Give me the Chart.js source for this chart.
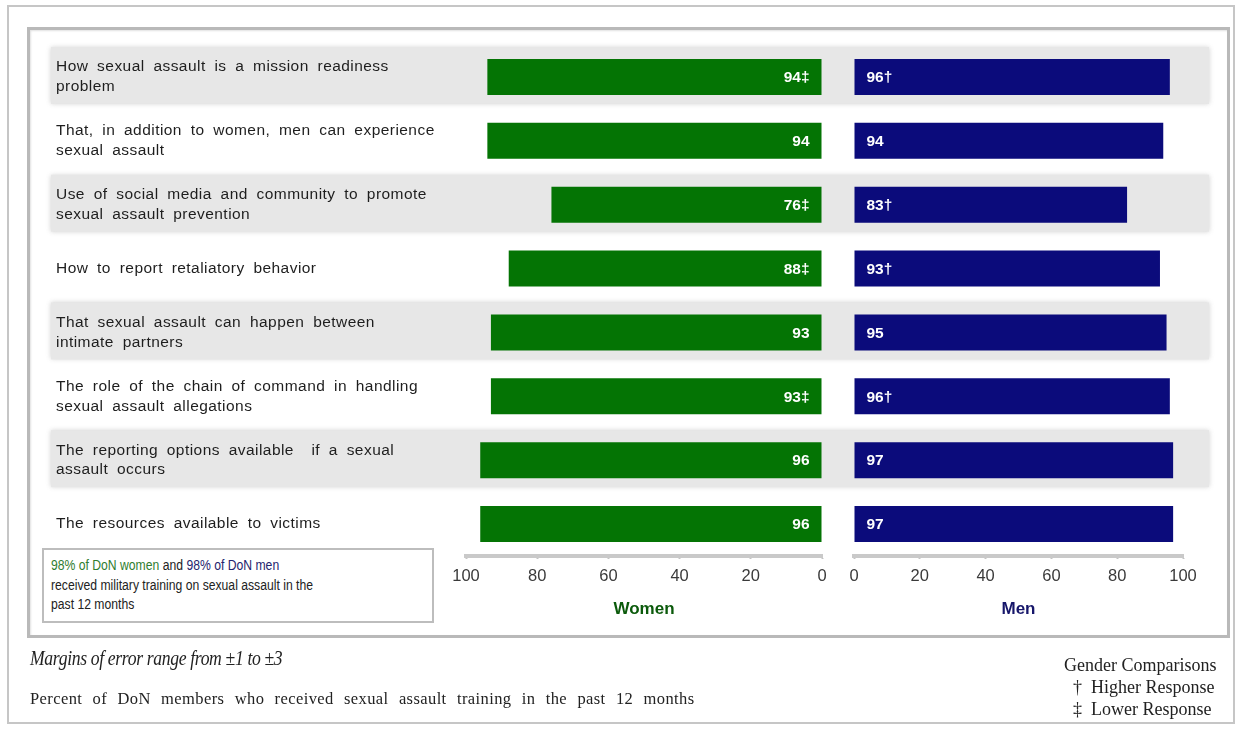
<!DOCTYPE html>
<html>
<head>
<meta charset="utf-8">
<script src="https://cdn.jsdelivr.net/npm/chart.js@4.4.1/dist/chart.umd.min.js"></script>
<style>
  html, body { margin: 0; padding: 0; background: #fff; }
  #page { position: relative; width: 1243px; height: 730px; overflow: hidden; font-family: Arial, "Liberation Sans", sans-serif; }
  #outer { position: absolute; left: 7px; top: 5px; width: 1228px; height: 719px; border: 2px solid #c6c6c6; box-sizing: border-box; }
  #inner { position: absolute; left: 27px; top: 27px; width: 1203px; height: 611px; border: 3px solid #b9b9b9; box-sizing: border-box; box-shadow: inset 1px 1px 2px rgba(0,0,0,0.12); }
  canvas { position: absolute; left: 0; top: 0; }
  #note { position: absolute; left: 42px; top: 548px; width: 392px; height: 75px; box-sizing: border-box; border: 2px solid #bdbdbd; background: #fff;
          padding: 6px 0 0 7px; font-size: 14px; line-height: 19.5px; color: #222; }
  #note div { transform: scaleX(0.87); transform-origin: left top; white-space: nowrap; }
  #note .g { color: #2f7d2f; }
  #note .n { color: #24246e; }
  .serif { position: absolute; font-family: "Times New Roman", "Liberation Serif", serif; color: #222; white-space: nowrap; }
  #moe { left: 30px; top: 647px; font-size: 20.5px; font-style: italic; letter-spacing: -0.4px; transform: scaleX(0.86); transform-origin: left top; }
  #caption { left: 30px; top: 689px; font-size: 16.5px; letter-spacing: 0.4px; word-spacing: 5.8px; }
  #legend { left: 1064px; top: 654px; font-size: 18px; line-height: 22px; }
  #legend .m { display: inline-block; width: 18px; text-align: center; }
</style>
</head>
<body>
<div id="page">
  <div id="outer"></div>
  <div id="inner"></div>
  <canvas id="womenChart" width="1243" height="730"></canvas>
  <canvas id="menChart" width="1243" height="730"></canvas>
  <div id="note"><div><span class="g">98% of DoN women</span> and <span class="n">98% of DoN men</span><br>received military training on sexual assault in the<br>past 12 months</div></div>
  <div id="moe" class="serif">Margins of error range from ±1 to ±3</div>
  <div id="caption" class="serif">Percent of DoN members who received sexual assault training in the past 12 months</div>
  <div id="legend" class="serif">Gender Comparisons<br>&nbsp;<span class="m">†</span> Higher Response<br>&nbsp;<span class="m">‡</span> Lower Response</div>
</div>
<script>
// — datos —
const rowLabels = [
  ['How sexual assault is a mission readiness', 'problem'],
  ['That, in addition to women, men can experience', 'sexual assault'],
  ['Use of social media and community to promote', 'sexual assault prevention'],
  'How to report retaliatory behavior',
  ['That sexual assault can happen between', 'intimate partners'],
  ['The role of the chain of command in handling', 'sexual assault allegations'],
  ['The reporting options available  if a sexual', 'assault occurs'],
  'The resources available to victims'
];
const womenValues  = [94, 94, 76, 88, 93, 93, 96, 96];
const menValues    = [96, 94, 83, 93, 95, 96, 97, 97];
const womenMarks   = ['‡', '', '‡', '‡', '', '‡', '', ''];
const menMarks     = ['†', '', '†', '†', '', '†', '', ''];
const axisMin = 0, axisMax = 100, axisStep = 20;

const GREEN = '#047404';
const NAVY  = '#0b0b7b';
const FONT  = 'Arial, "Liberation Sans", sans-serif';

// bandas grises alternas detrás de las filas
const rowBands = {
  id: 'rowBands',
  beforeDatasetsDraw(chart) {
    const { ctx } = chart;
    const y = chart.scales.y;
    ctx.save();
    ctx.fillStyle = '#e7e7e7';
    ctx.shadowColor = 'rgba(200,200,200,0.9)';
    ctx.shadowBlur = 5;
    rowLabels.forEach((_, i) => {
      if (i % 2) return;
      const cy = y.getPixelForValue(i);
      ctx.fillRect(51, cy - 30, 1158, 57);
    });
    ctx.restore();
  }
};

// etiquetas blancas dentro de las barras
const valueLabels = {
  id: 'valueLabels',
  afterDatasetsDraw(chart, args, opts) {
    const { ctx } = chart;
    const meta = chart.getDatasetMeta(0);
    ctx.save();
    ctx.font = 'bold 15.5px ' + FONT;
    ctx.fillStyle = '#fff';
    ctx.textBaseline = 'middle';
    ctx.textAlign = opts.align;
    meta.data.forEach((bar, i) => {
      const x = opts.align === 'right' ? bar.base - 12 : bar.base + 12;
      ctx.fillText(opts.values[i] + opts.marks[i], x, bar.y + 1);
    });
    ctx.restore();
    // espaciado del texto de las categorías (se dibujan después, z = 1)
    if (opts.spacing) {
      ctx.letterSpacing = '0.45px';
      ctx.wordSpacing = '4px';
    }
  },
  afterDraw(chart) {
    chart.ctx.letterSpacing = '0px';
    chart.ctx.wordSpacing = '0px';
  }
};

function xScale(reverse, color, title) {
  return {
    type: 'linear',
    position: 'bottom',
    reverse: reverse,
    min: axisMin,
    max: axisMax,
    grid: { display: true, drawOnChartArea: false, drawTicks: true, tickLength: 3, color: '#c4c4c4', tickWidth: 2 },
    border: { display: true, color: '#c9c9c9', width: 4 },
    ticks: { stepSize: axisStep, padding: 8, color: '#3a3a3a', font: { family: FONT, size: 16.5 } },
    title: { display: true, text: title, color: color, font: { family: FONT, size: 17, weight: 'bold' }, padding: { top: 0, bottom: 10 } },
    afterFit(s) { s.height = 74; }
  };
}

Chart.defaults.animation = false;

const womenChart = new Chart(document.getElementById('womenChart'), {
  type: 'bar',
  data: {
    labels: rowLabels,
    datasets: [{ data: womenValues, backgroundColor: GREEN, barPercentage: 0.565, categoryPercentage: 1 }]
  },
  options: {
    indexAxis: 'y',
    responsive: false,
    layout: { padding: { left: 56, right: 1243 - 822, top: 45, bottom: 100 } },
    scales: {
      x: xScale(true, '#0b5a0b', 'Women'),
      y: {
        grid: { display: false },
        border: { display: false },
        ticks: { crossAlign: 'far', z: 1, color: '#1e1e1e', font: { family: FONT, size: 15.5, lineHeight: 1.28 } },
        afterFit(s) { s.width = 466 - 56; }
      }
    },
    plugins: {
      legend: { display: false },
      tooltip: { enabled: false },
      valueLabels: { align: 'right', values: womenValues, marks: womenMarks, spacing: true }
    }
  },
  plugins: [rowBands, valueLabels]
});

const menChart = new Chart(document.getElementById('menChart'), {
  type: 'bar',
  data: {
    labels: rowLabels,
    datasets: [{ data: menValues, backgroundColor: NAVY, barPercentage: 0.565, categoryPercentage: 1 }]
  },
  options: {
    indexAxis: 'y',
    responsive: false,
    layout: { padding: { left: 854, right: 1243 - 1183, top: 45, bottom: 100 } },
    scales: {
      x: xScale(false, '#16166a', 'Men'),
      y: { display: false }
    },
    plugins: {
      legend: { display: false },
      tooltip: { enabled: false },
      valueLabels: { align: 'left', values: menValues, marks: menMarks, spacing: false }
    }
  },
  plugins: [valueLabels]
});
</script>
</body>
</html>
